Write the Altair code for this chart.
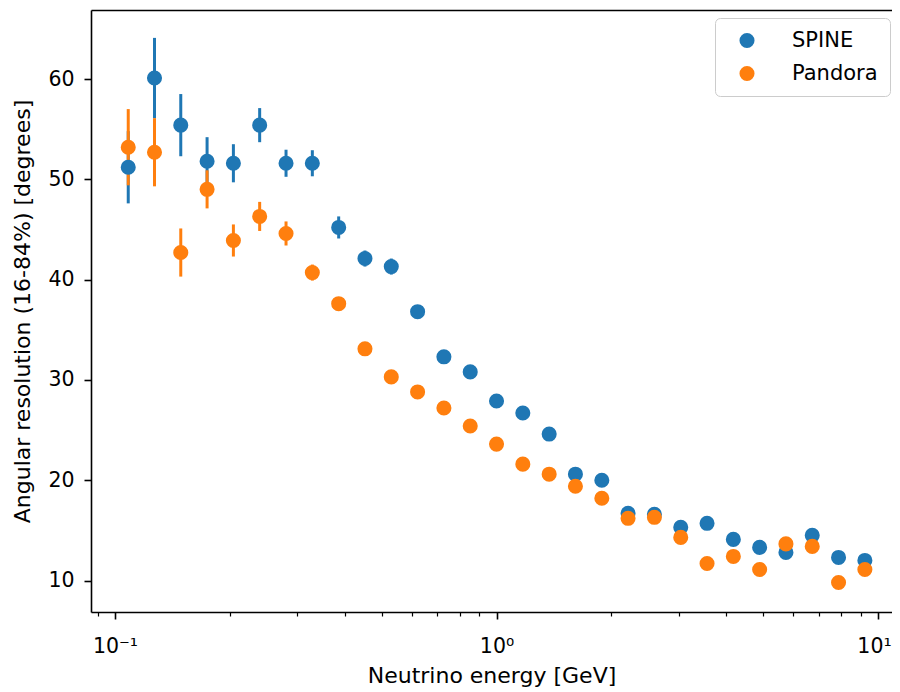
import altair as alt
import pandas as pd

# Bin centres (GeV)
energy = [0.1083, 0.1269, 0.1487, 0.1743, 0.2043, 0.2394, 0.2807, 0.3290, 0.3857,
          0.4520, 0.5298, 0.6210, 0.7279, 0.8532, 1.0000, 1.172, 1.374, 1.610,
          1.888, 2.212, 2.593, 3.040, 3.563, 4.176, 4.894, 5.736, 6.723, 7.880, 9.237]

spine_res = [51.2, 60.1, 55.4, 51.8, 51.6, 55.4, 51.6, 51.6, 45.2, 42.1, 41.3, 36.8,
             32.3, 30.8, 27.9, 26.7, 24.6, 20.6, 20.0, 16.7, 16.6, 15.3, 15.7, 14.1,
             13.3, 12.8, 14.5, 12.3, 12.0]
spine_err = [3.6, 4.0, 3.1, 2.4, 1.9, 1.7, 1.35, 1.3, 1.1, 0.8, 0.8, 0.6, 0.5, 0.5,
             0.5, 0.5, 0.5, 0.5, 0.5, 0.4, 0.4, 0.4, 0.4, 0.4, 0.4, 0.4, 0.4, 0.4, 0.4]

pandora_res = [53.2, 52.7, 42.7, 49.0, 43.9, 46.3, 44.6, 40.7, 37.6, 33.1, 30.3, 28.8,
               27.2, 25.4, 23.6, 21.6, 20.6, 19.4, 18.2, 16.2, 16.3, 14.3, 11.7, 12.4,
               11.1, 13.65, 13.4, 9.8, 11.1]
pandora_err = [3.8, 3.4, 2.4, 1.9, 1.6, 1.45, 1.2, 0.8, 0.6, 0.5, 0.5, 0.4, 0.4, 0.4,
               0.4, 0.4, 0.4, 0.4, 0.4, 0.4, 0.4, 0.4, 0.4, 0.4, 0.4, 0.4, 0.4, 0.4, 0.4]

series_names = ["SPINE", "Pandora"]
series_colors = ["#1f77b4", "#ff7f0e"]

major_ticks = [0.1, 1, 10]
minor_ticks = [0.09, 0.2, 0.3, 0.4, 0.5, 0.6, 0.7, 0.8, 0.9,
               2, 3, 4, 5, 6, 7, 8, 9]
y_ticks = [10, 20, 30, 40, 50, 60]

rows = []
for name, ys, es in [("SPINE", spine_res, spine_err), ("Pandora", pandora_res, pandora_err)]:
    for e, v, err in zip(energy, ys, es):
        rows.append({"series": name, "energy": e, "res": v, "err": err})
df = pd.DataFrame(rows)

FONT = "DejaVu Sans"
W, H = 801, 602

xscale = alt.Scale(type="log", domain=[0.0865, 10.88], nice=False)
yscale = alt.Scale(domain=[6.86, 66.88], nice=False, zero=False)
cscale = alt.Scale(domain=series_names, range=series_colors)

base = alt.Chart(df).transform_calculate(
    lo="datum.res - datum.err", hi="datum.res + datum.err"
)

yaxis = alt.Axis(values=y_ticks, title="Angular resolution (16-84%) [degrees]",
                 tickSize=7, tickWidth=1.6, labelPadding=10, labelFontSize=20.5,
                 titleFontSize=22, titlePadding=13, domain=True, domainWidth=1.6,
                 domainColor="black", grid=False,
                 labelFont=FONT, titleFont=FONT, labelColor="black",
                 titleColor="black", tickColor="black", titleFontWeight="normal")

# error bars (minor ticks on this layer's x axis)
rules = base.mark_rule(strokeWidth=3).encode(
    x=alt.X("energy:Q", scale=xscale,
            axis=alt.Axis(values=minor_ticks, labels=False, title=None, tickSize=4,
                          tickWidth=1.2, tickColor="black", domain=False, grid=False,
                          orient="bottom")),
    y=alt.Y("lo:Q", scale=yscale, axis=yaxis),
    y2="hi:Q",
    color=alt.Color("series:N", scale=cscale, legend=None),
)

# markers (major ticks + legend)
points = base.mark_circle(size=227, opacity=1).encode(
    x=alt.X("energy:Q", scale=xscale,
            axis=alt.Axis(values=major_ticks, title="Neutrino energy [GeV]",
                          labelExpr="'10' + (round(log(datum.value)/LN10) < 0 ? '⁻¹' : (round(log(datum.value)/LN10) == 0 ? '⁰' : '¹'))",
                          labelOffset={"condition": {"test": "datum.value > 5", "value": -4}, "value": 0},
                          tickSize=7, tickWidth=1.6, labelPadding=17,
                          labelFontSize=20.5, titleFontSize=22, titlePadding=9,
                          domain=True, domainWidth=1.6, domainColor="black",
                          grid=False, orient="bottom",
                          labelFont=FONT, titleFont=FONT, labelColor="black",
                          titleColor="black", tickColor="black",
                          titleFontWeight="normal")),
    y=alt.Y("res:Q", scale=yscale, axis=yaxis),
    color=alt.Color("series:N", scale=cscale, sort=series_names,
                    legend=alt.Legend(title=None, orient="none", legendX=624, legendY=8,
                                      padding=12, symbolOffset=9.5, labelOffset=34.5,
                                      rowPadding=11, symbolSize=227, symbolType="circle",
                                      symbolStrokeWidth=0,
                                      labelFontSize=21, labelFont=FONT, labelColor="black",
                                      strokeColor="#cccccc", fillColor="white",
                                      cornerRadius=5)),
    order=alt.Order("series_order:Q"),
).transform_calculate(series_order="datum.series == 'SPINE' ? 0 : 1")

# invisible layer that only carries the top frame line
frame_top = base.mark_circle(opacity=0).encode(
    x=alt.X("energy:Q", scale=xscale,
            axis=alt.Axis(orient="top", values=major_ticks, labels=False, ticks=False,
                          title=None, domain=True, domainWidth=1.6,
                          domainColor="black", grid=False)),
    y=alt.Y("res:Q", scale=yscale, axis=yaxis),
)

chart = alt.layer(rules, points, frame_top).resolve_axis(x="independent").resolve_legend(
    color="independent"
).properties(
    width=W, height=H,
    autosize=alt.AutoSizeParams(type="none"),
    padding={"left": 83, "top": 2, "right": 0, "bottom": 80},
).configure_view(stroke=None)

chart.save("out.html", embed_options={"renderer": "svg", "actions": False})
